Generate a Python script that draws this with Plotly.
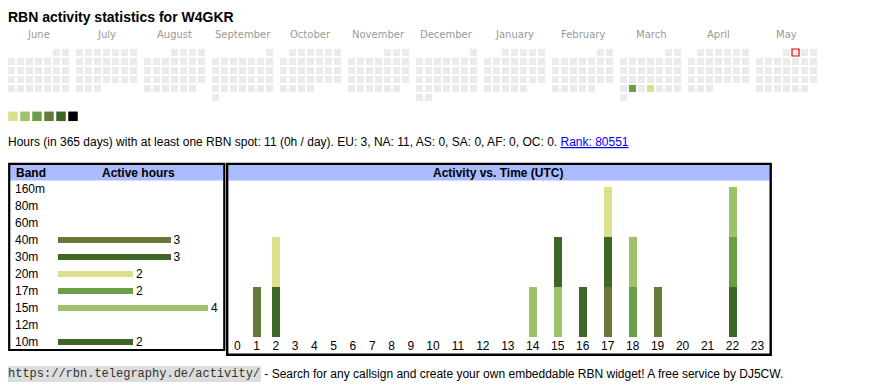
import datetime as dt
import plotly.graph_objects as go

# ---------------- data ----------------
CALLSIGN = "W4GKR"
MONTHS = ["June", "July", "August", "September", "October", "November",
          "December", "January", "February", "March", "April", "May"]
CAL_START = "2024-06-01"
CAL_END = "2025-05-31"
TODAY = "2025-05-02"
ACTIVE_DAYS = ["2025-03-25", "2025-03-27"]
ACTIVE_LEVELS = [3, 1]
LEVEL_COLORS = ["#dbe18a", "#9dc26b", "#6a9f47", "#667a3a", "#3e6627", "#000000"]
EMPTY_COLOR = "#ebebeb"

TOTAL_HOURS = 11
PER_DAY = "0h"
CONTINENTS = ["EU", "NA", "AS", "SA", "AF", "OC"]
CONT_HOURS = [3, 11, 0, 0, 0, 0]
RANK = 80551

BANDS = ["160m", "80m", "60m", "40m", "30m", "20m", "17m", "15m", "12m", "10m"]
BAND_HOURS = [0, 0, 0, 3, 3, 2, 2, 4, 0, 2]
BAND_COLORS = ["#000000", "#3e6627", "#667a3a", "#667a3a", "#3e6627",
               "#dbe18a", "#6a9f47", "#9dc26b", "#dbe18a", "#3e6627"]

HOURS = list(range(24))
HOURLY_BANDS = ["40m", "30m", "20m", "17m", "15m", "10m"]
HOURLY_40M = [0,1,0,0,0,0,0,0,0,0,0,0,0,0,0,0,0,1,0,1,0,0,0,0]
HOURLY_30M = [0,0,1,0,0,0,0,0,0,0,0,0,0,0,0,0,0,1,0,0,0,0,1,0]
HOURLY_20M = [0,0,1,0,0,0,0,0,0,0,0,0,0,0,0,0,0,1,0,0,0,0,0,0]
HOURLY_17M = [0,0,0,0,0,0,0,0,0,0,0,0,0,0,0,0,0,0,1,0,0,0,1,0]
HOURLY_15M = [0,0,0,0,0,0,0,0,0,0,0,0,0,0,1,1,0,0,1,0,0,0,1,0]
HOURLY_10M = [0,0,0,0,0,0,0,0,0,0,0,0,0,0,0,1,1,0,0,0,0,0,0,0]
HOURLY = [HOURLY_40M, HOURLY_30M, HOURLY_20M, HOURLY_17M, HOURLY_15M, HOURLY_10M]

FOOT_URL = "https://rbn.telegraphy.de/activity/"
FOOT_TEXT = " - Search for any callsign and create your own embeddable RBN widget! A free service by DJ5CW."

# ---------------- layout constants ----------------
W, H = 870, 390
PAGE_OFF = 8          # the page body adds an 8px margin around the figure
SANS = "Liberation Sans, Arial, sans-serif"
MONO = "Liberation Mono, Courier New, monospace"
CAL_X0, CAL_Y0 = 11.5, 52.5
CELL = 9
MONTH_PITCH = 68
HEADER_BLUE = "#aabbff"

def dom_x(p):
    return (p - PAGE_OFF) / W

def dom_y(p):
    return 1 - (p - PAGE_OFF) / H

fig = go.Figure()

# ---- calendar ----
start = dt.date.fromisoformat(CAL_START)
end = dt.date.fromisoformat(CAL_END)
active = {dt.date.fromisoformat(d): lv for d, lv in zip(ACTIVE_DAYS, ACTIVE_LEVELS)}
today = dt.date.fromisoformat(TODAY)
cx, cy, cc = [], [], []
tx = ty = None
d = start
while d <= end:
    m = (d.year - start.year) * 12 + d.month - start.month
    off = d.replace(day=1).weekday()
    row = (d.day - 1 + off) // 7
    col = d.weekday()
    x = CAL_X0 + MONTH_PITCH * m + CELL * col
    y = CAL_Y0 + CELL * row
    cx.append(x); cy.append(y)
    cc.append(LEVEL_COLORS[active[d] - 1] if d in active else EMPTY_COLOR)
    if d == today:
        tx, ty = x, y
    d += dt.timedelta(days=1)

fig.add_trace(go.Scatter(x=cx, y=cy, mode="markers", xaxis="x", yaxis="y",
                         marker=dict(symbol="square", size=7, color=cc, line=dict(width=0)),
                         cliponaxis=False, hoverinfo="skip", showlegend=False))
fig.add_trace(go.Scatter(x=[tx], y=[ty], mode="markers", xaxis="x", yaxis="y",
                         marker=dict(symbol="square", size=7, color="#f4f4f4",
                                     line=dict(width=1.2, color="#ee0000")),
                         cliponaxis=False, hoverinfo="skip", showlegend=False))
# level legend squares
fig.add_trace(go.Scatter(x=[13 + 12 * i for i in range(len(LEVEL_COLORS))],
                         y=[116.3] * len(LEVEL_COLORS), mode="markers", xaxis="x", yaxis="y",
                         marker=dict(symbol="square", size=9.5, color=LEVEL_COLORS, line=dict(width=0)),
                         cliponaxis=False, hoverinfo="skip", showlegend=False))

annotations = []
def ann(x, y, text, size=12, color="black", family=SANS, xanchor="left", **kw):
    annotations.append(dict(x=dom_x(x), y=dom_y(y), xref="paper", yref="paper", text=text,
                            showarrow=False, xanchor=xanchor, yanchor="middle",
                            font=dict(size=size, color=color, family=family), **kw))

ann(6.3, 16.5, "<b>RBN activity statistics for %s</b>" % CALLSIGN, size=14)
for i, mn in enumerate(MONTHS):
    ann(CAL_X0 + MONTH_PITCH * i + CELL * 3, 35, mn, size=10, color="#999999",
        family="DejaVu Sans, sans-serif", xanchor="center")

cont = ", ".join("%s: %d" % (c, v) for c, v in zip(CONTINENTS, CONT_HOURS))
line = ("Hours (in 365 days) with at least one RBN spot: %d (%s / day). %s. "
        "<a href='https://rbn.telegraphy.de/activity/rank'><span style='color:#0000ee'><u>Rank: %d</u></span></a>"
        % (TOTAL_HOURS, PER_DAY, cont, RANK))
ann(5.5, 142, line, size=12)

# ---- panels (frames + headers) ----
shapes = [
    dict(type="rect", xref="x", yref="y", x0=10, x1=223.3, y0=165, y1=180.5,
         fillcolor=HEADER_BLUE, line=dict(width=0), layer="below"),
    dict(type="rect", xref="x", yref="y", x0=228.3, x1=769.5, y0=165, y1=180.5,
         fillcolor=HEADER_BLUE, line=dict(width=0), layer="below"),
    dict(type="rect", xref="x", yref="y", x0=9.2, x1=224.3, y0=163.9, y1=350,
         line=dict(width=2.2, color="black")),
    dict(type="rect", xref="x", yref="y", x0=227.2, x1=770.7, y0=163.9, y1=354.8,
         line=dict(width=2.4, color="black")),
]
ann(14, 172.8, "<b>Band</b>", size=12)
ann(138, 172.8, "<b>Active hours</b>", size=12, xanchor="center")
ann(498.5, 172.8, "<b>Activity vs. Time (UTC)</b>", size=12, xanchor="center")

# ---- band table bars ----
PX_PER_HOUR = 37.5
BAR_X0 = 58
TBL_L, TBL_R = 12, 222
fig.add_trace(go.Bar(
    x=BAND_HOURS, y=BANDS, orientation="h", xaxis="x2", yaxis="y2",
    marker=dict(color=BAND_COLORS, line=dict(width=0)), width=0.41,
    text=[str(v) if v else "" for v in BAND_HOURS], textposition="outside",
    constraintext="none",
    textfont=dict(size=12, color="black", family=SANS), cliponaxis=False,
    hoverinfo="skip", showlegend=False))

# ---- activity vs time ----
col_w = [13.57 + 5.7 * len(str(h)) for h in HOURS]
centers = []
acc = 0
for w in col_w:
    centers.append(acc + w / 2)
    acc += w
total_w = acc
ACT_L = 227.7
band_color = dict(zip(BANDS, BAND_COLORS))
for b, vals in zip(HOURLY_BANDS, HOURLY):
    fig.add_trace(go.Bar(x=centers, y=vals, xaxis="x3", yaxis="y3", width=8,
                         marker=dict(color=band_color[b], line=dict(width=0)),
                         name=b, hoverinfo="skip", showlegend=False))

# ---- footer ----
annotations.append(dict(x=dom_x(7), y=dom_y(374), xref="paper", yref="paper", text=FOOT_URL,
                        showarrow=False, xanchor="left", yanchor="middle", bgcolor="#dddddd",
                        borderpad=1, borderwidth=0,
                        font=dict(size=12, color="#333333", family=MONO)))
ann(259, 374, FOOT_TEXT, size=12)

fig.update_layout(
    width=W, height=H, margin=dict(l=0, r=0, t=0, b=0),
    paper_bgcolor="white", plot_bgcolor="rgba(0,0,0,0)",
    barmode="stack", showlegend=False,
    xaxis=dict(domain=[0, 1], range=[PAGE_OFF, PAGE_OFF + W], visible=False, fixedrange=True),
    yaxis=dict(domain=[0, 1], range=[PAGE_OFF + H, PAGE_OFF], visible=False, fixedrange=True),
    xaxis2=dict(domain=[dom_x(TBL_L), dom_x(TBL_R)],
                range=[-(BAR_X0 - TBL_L) / PX_PER_HOUR, (TBL_R - BAR_X0) / PX_PER_HOUR],
                visible=False, anchor="y2"),
    yaxis2=dict(domain=[dom_y(350.5), dom_y(180.5)], type="category",
                categoryorder="array", categoryarray=BANDS, autorange="reversed",
                ticklabelposition="inside", ticks="", showgrid=False, zeroline=False,
                showline=False, anchor="x2",
                tickfont=dict(size=12, color="black", family=SANS)),
    xaxis3=dict(domain=[dom_x(ACT_L), dom_x(ACT_L + total_w)], range=[0, total_w],
                tickmode="array", tickvals=centers, ticktext=[str(h) for h in HOURS],
                ticks="", showgrid=False, zeroline=False, showline=False, anchor="y3",
                tickfont=dict(size=12, color="black", family=SANS)),
    yaxis3=dict(domain=[dom_y(337), dom_y(181)], range=[0, 3.12], visible=False, anchor="x3"),
    shapes=shapes, annotations=annotations,
)

fig.write_html("out.html")
